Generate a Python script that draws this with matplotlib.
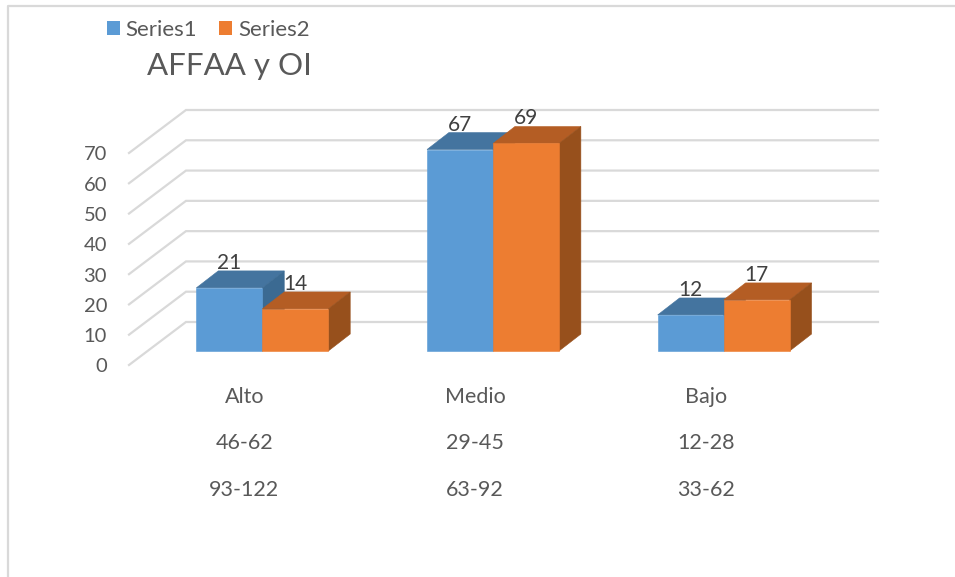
import matplotlib
matplotlib.use("Agg")
import matplotlib.pyplot as plt
from matplotlib.patches import Patch, Polygon

plt.rcParams["font.family"] = ["Lato", "DejaVu Sans"]

# Data
categories = ["Alto", "Medio", "Bajo"]
range_row2 = ["46-62", "29-45", "12-28"]
range_row3 = ["93-122", "63-92", "33-62"]
series1 = [21, 67, 12]
series2 = [14, 69, 17]
series_names = ["Series1", "Series2"]
y_ticks = [0, 10, 20, 30, 40, 50, 60, 70]

W, H = 955, 577
TEXT = "#595959"
LABEL = "#404040"
GRID = "#D9D9D9"

# fake 3D sizes, in axis units
FLOOR_DX, FLOOR_DY = 0.247, 14.2
BAR_DX, BAR_DY = 0.078, 4.62
DEPTH_DX, DEPTH_DY = 0.095, 5.6
BAR_W = 0.286
BAR_SCALE = 0.993  # bars sit in front of the wall so they come out a bit shorter

fig = plt.figure(figsize=(W / 100, H / 100), dpi=100, facecolor="white")
ax = fig.add_axes([129 / W, 1 - 365 / H, 692 / W, 212 / H])
ax.set_xlim(-0.5, 2.5)
ax.set_ylim(0, 70)
ax.axis("off")

# Chart frame
fig.add_artist(plt.Line2D([8 / W, 8 / W, 1], [0, 1 - 6 / H, 1 - 6 / H], color=GRID, lw=1.6))

# Walls
for t in y_ticks:
    ax.plot([-0.5, -0.5 + FLOOR_DX, 2.5 + FLOOR_DX], [t, t + FLOOR_DY, t + FLOOR_DY],
            color=GRID, lw=1.6, clip_on=False, zorder=1, solid_joinstyle="miter")
    ax.annotate(str(t), (-0.5, t), xytext=(-22, -2), textcoords="offset pixels",
                ha="right", va="center", fontsize=14.5, color=TEXT, annotation_clip=False)


def draw_bar(x0, val, front, top, side, z):
    x1 = x0 + BAR_W
    y0 = BAR_DY
    y1 = val * BAR_SCALE + BAR_DY
    faces = [
        ([(x0, y1), (x1, y1), (x1 + DEPTH_DX, y1 + DEPTH_DY), (x0 + DEPTH_DX, y1 + DEPTH_DY)], top),
        ([(x1, y0), (x1 + DEPTH_DX, y0 + DEPTH_DY), (x1 + DEPTH_DX, y1 + DEPTH_DY), (x1, y1)], side),
        ([(x0, y0), (x1, y0), (x1, y1), (x0, y1)], front),
    ]
    for pts, col in faces:
        ax.add_patch(Polygon(pts, closed=True, facecolor=col, edgecolor=col, lw=0.4,
                             clip_on=False, zorder=z))
    ax.annotate(str(val), ((x0 + x1) / 2, y1), xytext=(0, 25), textcoords="offset pixels",
                ha="center", va="center", fontsize=15, color=LABEL, zorder=10,
                annotation_clip=False)


for i in range(len(categories)):
    left = i + BAR_DX - BAR_W
    draw_bar(left, series1[i], "#5B9BD5", "#44749F", "#3B6A92", 3)
    draw_bar(left + BAR_W, series2[i], "#ED7D31", "#B45D24", "#97501C", 4)

# Category rows below the floor
trans = ax.get_xaxis_transform()
for row, labels in zip([397, 443, 490], [categories, range_row2, range_row3]):
    for i, lab in enumerate(labels):
        ax.text(i, 1 - (row - 153) / 212, lab, transform=trans, ha="center", va="center",
                fontsize=15.5, color=TEXT, clip_on=False)

fig.text(147 / W, 1 - 66 / H, "AFFAA y OI", fontsize=22.5, color=TEXT, ha="left", va="center")

handles = [Patch(facecolor="#5B9BD5", label=series_names[0]),
           Patch(facecolor="#ED7D31", label=series_names[1])]
fig.legend(handles=handles, loc="center left", bbox_to_anchor=(100 / W, 1 - 30 / H), ncol=2,
           frameon=False, fontsize=16, labelcolor=TEXT, handlelength=0.58, handleheight=0.58,
           handletextpad=0.27, columnspacing=1.0, borderpad=0.3, borderaxespad=0)

fig.savefig("out.png", dpi=100, facecolor="white")
